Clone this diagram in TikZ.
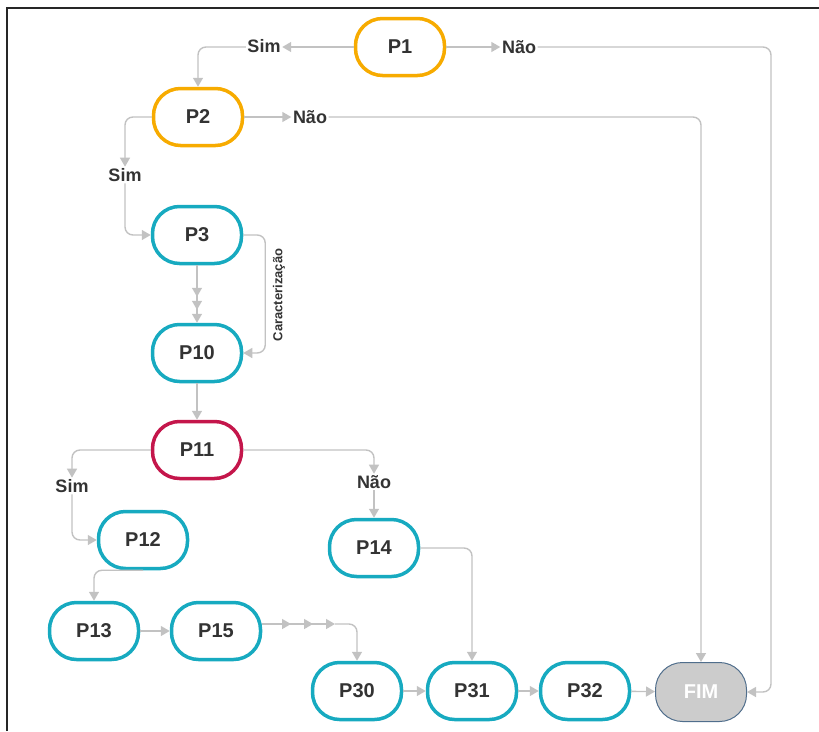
\documentclass[tikz,border=0pt]{standalone}
\usepackage{fontspec}
\setmainfont{Liberation Sans}
\usetikzlibrary{arrows.meta}
\definecolor{stepOrange}{RGB}{247,171,0}
\definecolor{stepTeal}{RGB}{23,170,192}
\definecolor{stepRed}{RGB}{196,22,75}
\definecolor{edgeGray}{RGB}{194,194,194}
\definecolor{textGray}{RGB}{51,51,51}
\definecolor{endFill}{RGB}{204,204,204}
\definecolor{endBorder}{RGB}{80,110,140}
\newcommand{\stepFont}[0]{\fontsize{20}{23}\selectfont\bfseries}
\newcommand{\answerFont}[0]{\fontsize{18}{21}\selectfont\bfseries}

\begin{document}
\begin{tikzpicture}[x=1pt, y=-1pt]
  \tikzset{stepbox/.style={rectangle, rounded corners=27pt, line width=3.5pt,
      minimum width=89pt, minimum height=57pt, fill=white, text=textGray, font=\stepFont},
    answer/.style={inner sep=1.5pt, text=textGray, font=\answerFont},
    flow/.style={draw=edgeGray, line width=1.4pt, rounded corners=8pt,
      -{Triangle[width=10pt,length=9pt]}},
    flowthree/.style={draw=edgeGray, line width=1.4pt,
      -{Triangle[width=10pt,length=9pt,sep=#1]Triangle[width=10pt,length=9pt,sep=#1]Triangle[width=10pt,length=9pt]}}}
  \useasboundingbox (0,0) rectangle (819,731);
  \draw[line width=2.4pt, black!85] (7,731) -- (7,8) -- (819,8);

  \node[stepbox, draw=stepOrange] (P1) at (400,47) {P1};
  \node[stepbox, draw=stepOrange] (P2) at (198,117) {P2};
  \node[stepbox, draw=stepTeal] (P3) at (197,235) {P3};
  \node[stepbox, draw=stepTeal] (P10) at (197,353) {P10};
  \node[stepbox, draw=stepRed] (P11) at (197,450) {P11};
  \node[stepbox, draw=stepTeal] (P12) at (143,540) {P12};
  \node[stepbox, draw=stepTeal] (P13) at (94,631) {P13};
  \node[stepbox, draw=stepTeal] (P15) at (216,631) {P15};
  \node[stepbox, draw=stepTeal] (P14) at (374,548) {P14};
  \node[stepbox, draw=stepTeal] (P30) at (357,691) {P30};
  \node[stepbox, draw=stepTeal] (P31) at (472,691) {P31};
  \node[stepbox, draw=stepTeal] (P32) at (585,691) {P32};
  \node[stepbox, draw=endBorder, line width=1pt, minimum width=91pt, minimum height=59pt,
    fill=endFill, text=white] (FIM) at (701,692) {FIM};

  \node[answer] (simA) at (264,46) {Sim};
  \node[answer] (naoA) at (519,47) {Não};
  \node[answer] (naoB) at (310,117) {Não};
  \node[answer] (simB) at (125,175) {Sim};
  \node[answer] (simC) at (72,486) {Sim};
  \node[answer] (naoC) at (374,482) {Não};
  \node[text=textGray, font=\fontsize{13}{15}\selectfont\bfseries, rotate=90]
    (carac) at (279,295) {Caracterização};
  \coordinate (turnA) at (335,624);

  % P1 and P2
  \draw[flow] (P1.west) -- (simA.east |- P1.west);
  \draw[flow] (simA.west |- P1.west) -| (P2.north);
  \draw[flow] (P1.east) -- (naoA.west |- P1.east);
  \draw[flow] (naoA.east |- P1.east) -| ([xshift=24pt]FIM.east) -- (FIM.east);
  \draw[flow] (P2.east) -- (naoB.west |- P2.east);
  \draw[flow] (naoB.east |- P2.east) -| (FIM.north);
  \draw[flow] (P2.west) -| (simB.north);
  \draw[flow] (simB.south) |- (P3.west);

  % P3 to P11
  \draw[flowthree=4pt] (P3) -- (P10);
  \draw[flow] (P3.east) -- ++(22,0) |- (P10.east);
  \draw[flow] (P10) -- (P11);

  % branches of P11
  \draw[flow] (P11.west) -| (simC.north);
  \draw[flow] (simC.south) |- (P12.west);
  \draw[flow] (P11.east) -| (naoC.north);
  \draw[flow] (naoC) -- (P14);
  \draw[flow] (P12.south) -| (P13.north);
  \draw[flow] (P13) -- (P15);
  \draw[flowthree=13pt] ([yshift=7pt]P15.east) -- (turnA);
  \draw[flow] (turnA) -| (P30.north);
  \draw[flow] (P14.east) -| (P31.north);

  % last row
  \draw[flow] (P30) -- (P31);
  \draw[flow] (P31) -- (P32);
  \draw[flow] (P32) -- (FIM);
\end{tikzpicture}
\end{document}
